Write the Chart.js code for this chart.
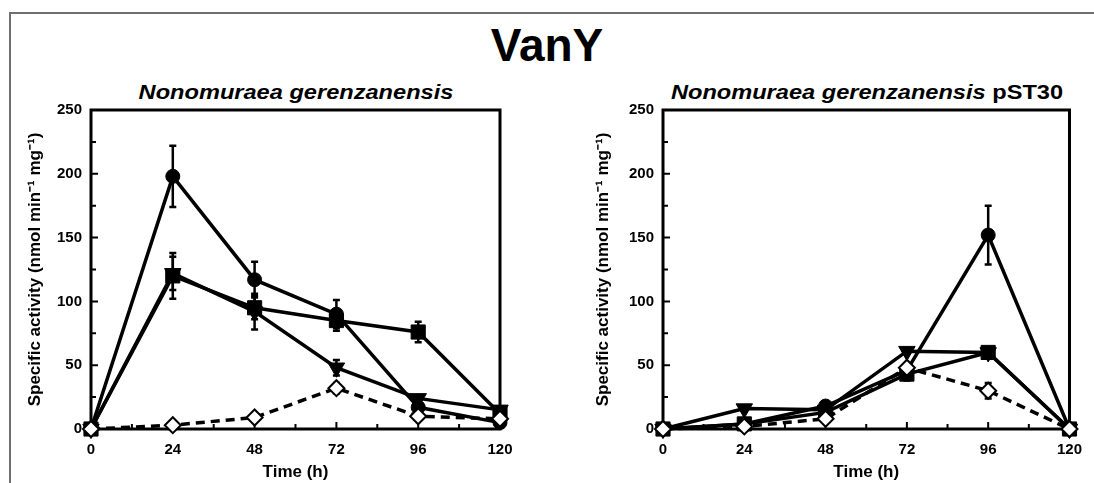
<!DOCTYPE html>
<html>
<head>
<meta charset="utf-8">
<script src="https://cdn.jsdelivr.net/npm/chart.js@4/dist/chart.umd.min.js"></script>
<style>
  body { margin: 0; background: #fff; }
  #page { position: relative; width: 1094px; height: 483px; overflow: hidden; font-family: 'Liberation Sans', Arial, sans-serif; }
  #frame { position: absolute; left: 9px; top: 12px; width: 1200px; height: 600px; border-left: 2px solid #6f6f6f; border-top: 2px solid #6f6f6f; }
  #title { position: absolute; left: 0; top: 20px; width: 1094px; text-align: center; font-weight: bold; font-size: 46px; line-height: 50px; }
  .sub { position: absolute; top: 80px; font-weight: bold; font-style: italic; font-size: 20px; line-height: 24px; white-space: nowrap; transform: translateX(-50%) scaleX(1.18); }
  .sub span { font-style: normal; }
  canvas { position: absolute; top: 0; }
</style>
</head>
<body>
<div id="page">
  <div id="frame"></div>
  <div id="title">VanY</div>
  <div class="sub" style="left:296px">Nonomuraea gerenzanensis</div>
  <div class="sub" style="left:867px">Nonomuraea gerenzanensis <span>pST30</span></div>
  <canvas id="chartWild" width="547" height="483" style="left:0"></canvas>
  <canvas id="chartPst" width="524" height="483" style="left:570px"></canvas>
</div>
<script>
// Sampling times (h)
const hours = [0, 24, 48, 72, 96, 120];

// N. gerenzanensis
const wildCircle = [0, 198, 117, 90, 17, 5];
const wildCircleErr = [0, 24, 14, 11, 0, 0];
const wildSquare = [0, 120, 95, 85, 76, 12];
const wildSquareErr = [0, 18, 9, 8, 8, 0];
const wildTriangle = [0, 122, 92, 48, 24, 15];
const wildTriangleErr = [0, 13, 14, 6, 0, 0];
const wildDiamond = [0, 3, 9, 32, 10, 8];
const wildDiamondErr = [0, 0, 0, 4, 0, 0];

// N. gerenzanensis pST30
const pstCircle = [0, 4, 18, 46, 152, 0];
const pstCircleErr = [0, 0, 2, 0, 23, 0];
const pstSquare = [0, 4, 13, 43, 60, 0];
const pstSquareErr = [0, 0, 0, 5, 4, 0];
const pstTriangle = [0, 16, 15, 61, 60, 0];
const pstTriangleErr = [0, 0, 0, 0, 0, 0];
const pstDiamond = [0, 2, 8, 48, 30, 0];
const pstDiamondErr = [0, 0, 0, 0, 6, 0];

// Axis ticks
const xMajorStep = 24;
const xMinorStep = 12;
const yMajorStep = 50;
const yMinorStep = 25;
const yMax = 250;

const FONT = "'Liberation Sans', Arial, sans-serif";

function points(values) {
    return hours.map((h, i) => ({ x: h, y: values[i] }));
}

const markerSize = { circle: 7, rect: 10, triangle: 9.5, rectRot: 8 };

function series(values, errors, style, order) {
    const open = style === 'rectRot';
    return {
        data: points(values),
        errors: errors,
        order: order,
        borderColor: '#000',
        borderWidth: 3.5,
        borderDash: open ? [9, 6] : [],
        pointStyle: style,
        pointRotation: style === 'triangle' ? 180 : 0,
        pointRadius: markerSize[style],
        pointHoverRadius: markerSize[style],
        pointBackgroundColor: open ? '#fff' : '#000',
        pointBorderColor: '#000',
        pointBorderWidth: open ? 2 : 1,
        fill: false,
        tension: 0,
        clip: false
    };
}

// Box around the plot and inward ticks on the left and bottom axes
const framePlugin = {
    id: 'frame',
    beforeDatasetsDraw(chart) {
        const { ctx, chartArea: a, scales: { x, y } } = chart;
        ctx.save();
        ctx.strokeStyle = '#000';
        ctx.lineWidth = 2;
        ctx.beginPath();
        for (let v = x.min; v <= x.max; v += xMinorStep) {
            const px = x.getPixelForValue(v);
            const len = v % xMajorStep === 0 ? 7 : 5;
            ctx.moveTo(px, a.bottom);
            ctx.lineTo(px, a.bottom - len);
        }
        for (let v = y.min; v <= y.max; v += yMinorStep) {
            const py = y.getPixelForValue(v);
            const len = v % yMajorStep === 0 ? 7 : 5;
            ctx.moveTo(a.left, py);
            ctx.lineTo(a.left + len, py);
        }
        ctx.stroke();
        ctx.lineWidth = 3;
        ctx.strokeRect(a.left, a.top, a.right - a.left, a.bottom - a.top);
        ctx.restore();
    }
};

const errorBarPlugin = {
    id: 'errorBars',
    beforeDatasetsDraw(chart) {
        const { ctx, scales: { x, y } } = chart;
        ctx.save();
        ctx.strokeStyle = '#000';
        ctx.lineWidth = 2.5;
        chart.data.datasets.forEach(ds => {
            ds.data.forEach((p, i) => {
                const e = ds.errors[i];
                if (!e) return;
                const px = x.getPixelForValue(p.x);
                const top = y.getPixelForValue(p.y + e);
                const bot = y.getPixelForValue(p.y - e);
                ctx.beginPath();
                ctx.moveTo(px, top);
                ctx.lineTo(px, bot);
                ctx.moveTo(px - 3.5, top);
                ctx.lineTo(px + 3.5, top);
                ctx.moveTo(px - 3.5, bot);
                ctx.lineTo(px + 3.5, bot);
                ctx.stroke();
            });
        });
        ctx.restore();
    }
};

function makeChart(id, sets, yAxisWidth, padRight, titlePad) {
    return new Chart(document.getElementById(id), {
        type: 'line',
        data: {
            datasets: [
                series(sets[0], sets[1], 'circle', 3),
                series(sets[2], sets[3], 'rect', 2),
                series(sets[4], sets[5], 'triangle', 1),
                series(sets[6], sets[7], 'rectRot', 0)
            ]
        },
        options: {
            responsive: false,
            animation: false,
            layout: { padding: { top: 110, right: padRight, left: 0, bottom: 0 } },
            plugins: {
                legend: { display: false },
                tooltip: { enabled: false }
            },
            scales: {
                x: {
                    type: 'linear',
                    min: 0,
                    max: 120,
                    grid: { display: false, drawTicks: false },
                    border: { display: false },
                    ticks: {
                        stepSize: xMajorStep,
                        padding: 12,
                        color: '#000',
                        font: { family: FONT, size: 15, weight: 'bold' }
                    },
                    title: {
                        display: true,
                        text: 'Time (h)',
                        color: '#000',
                        padding: { top: 0, bottom: 0 },
                        font: { family: FONT, size: 17, weight: 'bold' }
                    },
                    afterFit: scale => { scale.height = 54; }
                },
                y: {
                    min: 0,
                    max: yMax,
                    grid: { display: false, drawTicks: false },
                    border: { display: false },
                    ticks: {
                        stepSize: yMajorStep,
                        padding: 9,
                        color: '#000',
                        font: { family: FONT, size: 15, weight: 'bold' }
                    },
                    title: {
                        display: true,
                        text: 'Specific activity (nmol min\u207B\u00B9 mg\u207B\u00B9)',
                        color: '#000',
                        padding: { top: titlePad, bottom: 0 },
                        font: { family: FONT, size: 17, weight: 'bold' }
                    },
                    afterFit: scale => { scale.width = yAxisWidth; }
                }
            }
        },
        plugins: [framePlugin, errorBarPlugin]
    });
}

makeChart('chartWild', [wildCircle, wildCircleErr, wildSquare, wildSquareErr,
    wildTriangle, wildTriangleErr, wildDiamond, wildDiamondErr], 91, 47, 25);
makeChart('chartPst', [pstCircle, pstCircleErr, pstSquare, pstSquareErr,
    pstTriangle, pstTriangleErr, pstDiamond, pstDiamondErr], 93, 24, 23);
</script>
</body>
</html>
